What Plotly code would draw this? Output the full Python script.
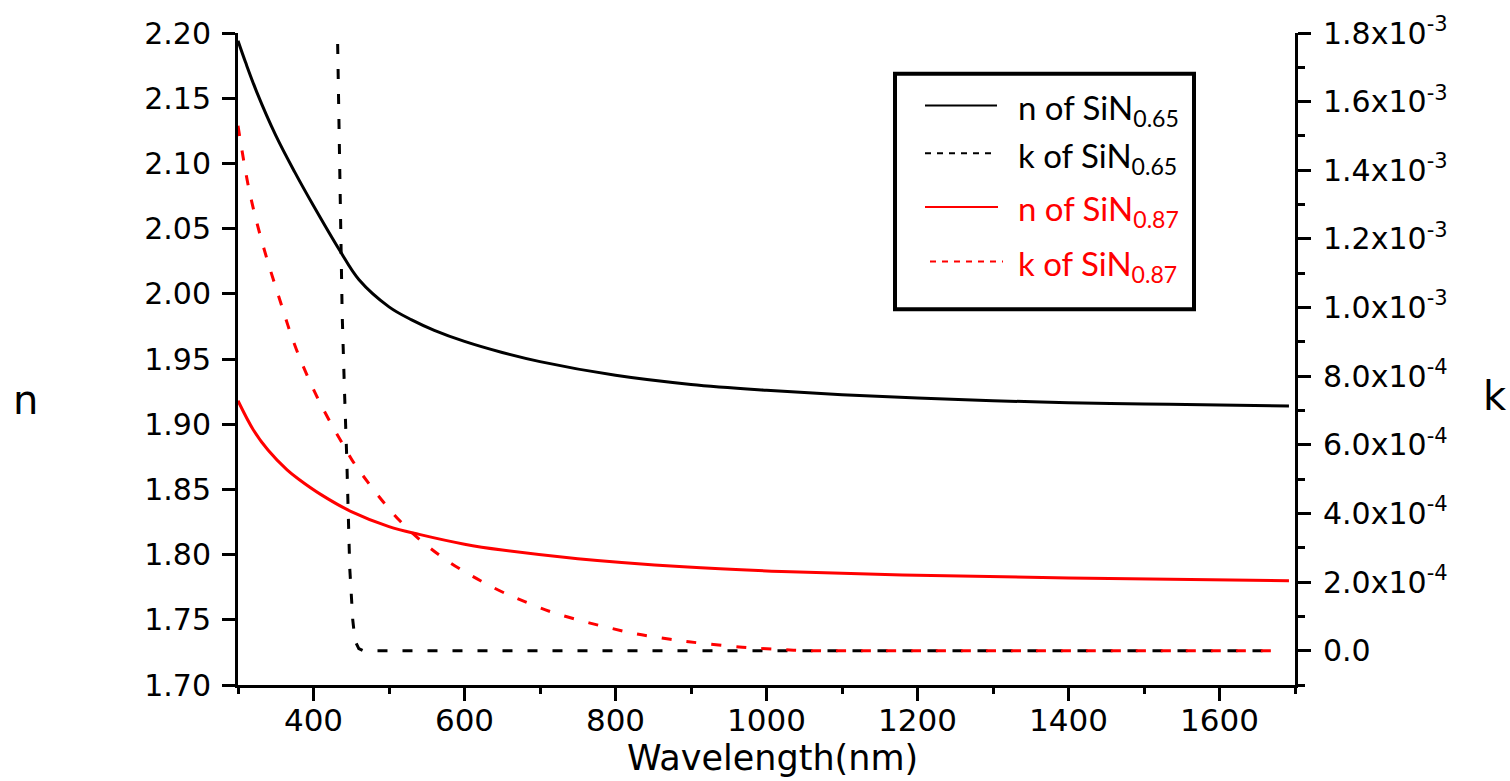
import plotly.graph_objects as go

# ---------------- data ----------------
wl_n065 = [300, 310, 325, 350, 375, 400, 435, 460, 500, 530, 560, 600, 650, 700, 800, 900,
           1000, 1100, 1200, 1300, 1400, 1500, 1600, 1692]
n065 = [2.194, 2.1775, 2.1545, 2.1215, 2.0935, 2.0675, 2.033, 2.011, 1.990, 1.980, 1.972,
        1.9635, 1.955, 1.948, 1.9375, 1.9305, 1.926, 1.9225, 1.920, 1.918, 1.9165, 1.9155,
        1.9147, 1.914]

wl_k065 = [432, 435, 438, 441, 444, 448, 452, 455, 460, 466, 600, 800, 1000, 1200, 1400, 1668]
k065 = [1.768e-3, 1.33e-3, 0.98e-3, 0.76e-3, 0.565e-3, 0.241e-3, 0.090e-3, 0.029e-3,
        0.006e-3, 0.0, 0.0, 0.0, 0.0, 0.0, 0.0, 0.0]

wl_n087 = [300, 320, 340, 365, 380, 410, 450, 500, 540, 600, 650, 750, 890, 1020, 1180,
           1400, 1692]
n087 = [1.918, 1.896, 1.880, 1.865, 1.858, 1.846, 1.833, 1.8215, 1.8155, 1.808, 1.8035,
        1.7969, 1.7907, 1.7871, 1.7844, 1.782, 1.780]

wl_k087 = [300, 315, 332, 355, 377, 408, 444, 457, 515, 572, 640, 684, 719, 755, 791, 825,
           861, 897, 968, 1021, 1060, 1200, 1400, 1668]
k087 = [1.53e-3, 1.34e-3, 1.19e-3, 1.025e-3, 0.880e-3, 0.725e-3, 0.582e-3, 0.536e-3,
        0.377e-3, 0.270e-3, 0.182e-3, 0.139e-3, 0.110e-3, 0.087e-3, 0.067e-3, 0.050e-3,
        0.037e-3, 0.026e-3, 0.010e-3, 0.003e-3, 0.0, 0.0, 0.0, 0.0]

x_tickvals = [400, 600, 800, 1000, 1200, 1400, 1600]
n_tickvals = [1.70, 1.75, 1.80, 1.85, 1.90, 1.95, 2.00, 2.05, 2.10, 2.15, 2.20]
k_tickvals = [0.0, 2e-4, 4e-4, 6e-4, 8e-4, 1.0e-3, 1.2e-3, 1.4e-3, 1.6e-3, 1.8e-3]
k_ticktext = ["0.0", "2.0x10<sup>-4</sup>", "4.0x10<sup>-4</sup>", "6.0x10<sup>-4</sup>",
              "8.0x10<sup>-4</sup>", "1.0x10<sup>-3</sup>", "1.2x10<sup>-3</sup>",
              "1.4x10<sup>-3</sup>", "1.6x10<sup>-3</sup>", "1.8x10<sup>-3</sup>"]
k_minorvals = [-1e-4, 1e-4, 3e-4, 5e-4, 7e-4, 9e-4, 1.1e-3, 1.3e-3, 1.5e-3, 1.7e-3]

legend_labels = ["n of SiN<sub>0.65</sub>", "k of SiN<sub>0.65</sub>",
                 "n of SiN<sub>0.87</sub>", "k of SiN<sub>0.87</sub>"]

# ---------------- figure ----------------
W, H = 1510, 781
L, R, T, B = 238, 1295, 29, 685

def px(p):
    return (p - L) / (R - L)

def py(p):
    return (B - p) / (B - T)

TICKFONT = dict(family="DejaVu Sans", size=30, color="black")
XTICKFONT = dict(family="DejaVu Sans", size=31, color="black")
DASH = "10px,15px"

fig = go.Figure()
fig.add_trace(go.Scatter(x=wl_n065, y=n065, mode="lines", line=dict(color="black", width=3),
                         line_shape="spline", yaxis="y", showlegend=False))
fig.add_trace(go.Scatter(x=wl_k065, y=k065, mode="lines",
                         line=dict(color="black", width=3, dash=DASH), yaxis="y2", showlegend=False))
fig.add_trace(go.Scatter(x=wl_n087, y=n087, mode="lines", line=dict(color="red", width=3),
                         line_shape="spline", yaxis="y", showlegend=False))
fig.add_trace(go.Scatter(x=wl_k087, y=k087, mode="lines",
                         line=dict(color="red", width=3, dash=DASH), line_shape="spline",
                         yaxis="y2", showlegend=False))

fig.update_layout(
    width=W, height=H,
    margin=dict(l=L, r=W - R, t=T, b=H - B, pad=0),
    paper_bgcolor="white", plot_bgcolor="white",
    xaxis=dict(range=[300, 1700], tickvals=x_tickvals, showgrid=False, zeroline=False,
               showline=True, linewidth=3, linecolor="black", ticks="outside", ticklen=13,
               tickwidth=3, tickcolor="black", tickfont=XTICKFONT, ticklabelstandoff=-7,
               minor=dict(dtick=100, tick0=300, ticks="outside", ticklen=6, tickwidth=3,
                          tickcolor="black")),
    yaxis=dict(range=[1.70, 2.20], tickvals=n_tickvals, tickformat=".2f", showgrid=False,
               zeroline=False, showline=True, linewidth=3, linecolor="black",
               ticks="outside", ticklen=13, tickwidth=3, tickcolor="black",
               tickfont=TICKFONT, ticklabelstandoff=5),
    yaxis2=dict(range=[-1e-4, 1.8e-3], overlaying="y", side="right", anchor="x",
                tickvals=k_tickvals, ticktext=k_ticktext, showgrid=False, zeroline=False,
                showline=True, linewidth=3, linecolor="black", ticks="outside", ticklen=13,
                tickwidth=3, tickcolor="black", tickfont=TICKFONT, ticklabelstandoff=6,
                minor=dict(tickvals=k_minorvals, ticks="outside", ticklen=7, tickwidth=3,
                           tickcolor="black")),
)

# axis titles
fig.add_annotation(text="Wavelength(nm)", xref="paper", yref="paper", x=px(772), y=py(758),
                   xanchor="center", yanchor="middle", showarrow=False,
                   font=dict(family="DejaVu Sans", size=35, color="black"))
fig.add_annotation(text="n", xref="paper", yref="paper", x=px(25), y=py(398),
                   xanchor="center", yanchor="middle", showarrow=False,
                   font=dict(family="DejaVu Sans", size=40, color="black"))
fig.add_annotation(text="k", xref="paper", yref="paper", x=px(1495), y=py(394),
                   xanchor="center", yanchor="middle", showarrow=False,
                   font=dict(family="DejaVu Sans", size=40, color="black"))

# legend box
fig.add_shape(type="rect", xref="paper", yref="paper", x0=px(895), x1=px(1194),
              y0=py(307), y1=py(70), line=dict(color="black", width=4), fillcolor="white",
              layer="above")
leg_colors = ["black", "black", "red", "red"]
leg_dash = ["solid", "6px,6px", "solid", "6px,6px"]
leg_line_y = [102, 150, 204, 259]
leg_line_x = [(925, 997), (925, 997), (925, 998), (930, 1003)]
for i in range(4):
    fig.add_shape(type="line", xref="paper", yref="paper",
                  x0=px(leg_line_x[i][0]), x1=px(leg_line_x[i][1]),
                  y0=py(leg_line_y[i]), y1=py(leg_line_y[i]),
                  line=dict(color=leg_colors[i], width=2, dash=leg_dash[i]), layer="above")
    fig.add_annotation(text=legend_labels[i], xref="paper", yref="paper",
                       x=px(1016), y=py(leg_line_y[i] + 4), xanchor="left", yanchor="middle",
                       showarrow=False,
                       font=dict(family="Lato", size=33, color=leg_colors[i]))

fig.write_html("out.html")
